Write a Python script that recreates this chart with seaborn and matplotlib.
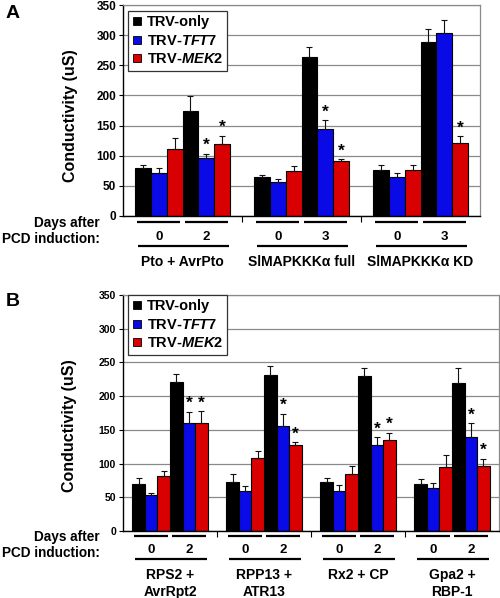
import numpy as np
import pandas as pd
import matplotlib
matplotlib.use("Agg")
import matplotlib.pyplot as plt
import matplotlib.transforms as mtransforms
from matplotlib.lines import Line2D
import seaborn as sns

# treatments / legend
treatments = ["TRV-only", "TRV-TFT7", "TRV-MEK2"]
legend_labels = ["TRV-only", r"TRV-$\mathit{TFT7}$", r"TRV-$\mathit{MEK2}$"]
colors = ["#000000", "#0a0ae6", "#d80000"]

# panel A : groups x days x treatments
groups_a = ["Pto + AvrPto", "SlMAPKKKα full", "SlMAPKKKα KD"]
days_a = [["0", "2"], ["0", "3"], ["0", "3"]]
mean_a = [[[79, 71, 111], [175, 96, 119]],
          [[64, 57, 75], [263, 145, 92]],
          [[77, 64, 76], [288, 303, 121]]]
err_a = [[[6, 9, 18], [24, 7, 14]],
         [[4, 4, 8], [18, 14, 2]],
         [[8, 7, 9], [23, 22, 11]]]
star_a = [[[0, 0, 0], [0, 1, 1]],
          [[0, 0, 0], [0, 1, 1]],
          [[0, 0, 0], [0, 0, 1]]]

# panel B
groups_b = ["RPS2 +\nAvrRpt2", "RPP13 +\nATR13", "Rx2 + CP", "Gpa2 +\nRBP-1"]
days_b = [["0", "2"], ["0", "2"], ["0", "2"], ["0", "2"]]
mean_b = [[[70, 54, 82], [221, 160, 160]],
          [[73, 60, 109], [231, 155, 127]],
          [[73, 60, 84], [230, 128, 135]],
          [[70, 64, 95], [220, 139, 97]]]
err_b = [[[9, 3, 7], [12, 17, 18]],
         [[12, 6, 10], [13, 19, 5]],
         [[6, 8, 13], [12, 11, 11]],
         [[7, 7, 18], [22, 21, 10]]]
star_b = [[[0, 0, 0], [0, 1, 1]],
          [[0, 0, 0], [0, 1, 1]],
          [[0, 0, 0], [0, 1, 1]],
          [[0, 0, 0], [0, 1, 1]]]

yticks = [0, 50, 100, 150, 200, 250, 300, 350]

plt.rcParams['font.family'] = ['Liberation Sans', 'DejaVu Sans']
plt.rcParams['font.weight'] = 'bold'
plt.rcParams['mathtext.fontset'] = 'custom'
plt.rcParams['mathtext.rm'] = 'Liberation Sans:bold'
plt.rcParams['mathtext.it'] = 'Liberation Sans:italic:bold'
plt.rcParams['mathtext.bf'] = 'Liberation Sans:bold'

MARGIN = 0.25
STEP = 2 + 2 * MARGIN
TXT = 10

fig = plt.figure(figsize=(5.0, 5.98), dpi=100)


def px_below(ax, px, xtrans):
    return (mtransforms.blended_transform_factory(xtrans, ax.transAxes)
            + mtransforms.ScaledTranslation(0, -px / fig.dpi, fig.dpi_scale_trans))


def panel(ax, groups, days, means, errs, stars, tick_fs, off, ylab_y, leg_anchor):
    rows = []
    for gi, g in enumerate(groups):
        for di in range(2):
            for ti, t in enumerate(treatments):
                rows.append(dict(group=g, day=days[gi][di], treatment=t,
                                 pos=gi * STEP + di, value=means[gi][di][ti],
                                 err=errs[gi][di][ti], star=stars[gi][di][ti]))
    df = pd.DataFrame(rows)

    sns.barplot(data=df, x="pos", y="value", hue="treatment", hue_order=treatments,
                palette=colors, saturation=1, native_scale=True, width=1, dodge=True,
                errorbar=None, edgecolor="black", linewidth=0.8, legend=False,
                ax=ax, zorder=2)

    # error bars and stars from bar geometry
    for t, cont in zip(treatments, ax.containers):
        sub = df[df.treatment == t].sort_values("pos")
        for bar, (_, r) in zip(cont.patches, sub.iterrows()):
            cx = bar.get_x() + bar.get_width() / 2
            top = bar.get_height()
            ax.errorbar(cx, top, yerr=[[0], [r.err]], fmt="none", ecolor="#111111",
                        elinewidth=0.8, capsize=2.3, capthick=0.8, zorder=3)
            if r.star:
                ax.annotate("*", xy=(cx, top + r.err), xytext=(0, 0.5),
                            textcoords="offset points", ha="center", va="bottom",
                            fontsize=12.5, fontweight="bold")

    n = len(groups)
    ax.set_xlim(-0.5 - MARGIN, (n - 1) * STEP + 1.5 + MARGIN)
    ax.set_ylim(0, 350)
    ax.set_yticks(yticks)
    ax.set_yticklabels([str(v) for v in yticks], fontsize=tick_fs, fontweight="bold")
    seps = [gi * STEP + 1.5 + MARGIN for gi in range(n - 1)]
    ax.set_xticks(seps)
    ax.set_xticklabels([])
    ax.tick_params(axis="x", length=4, width=0.8, direction="out")
    ax.tick_params(axis="y", length=3, width=0.8, direction="out", pad=2)
    ax.set_xlabel("")
    ax.yaxis.grid(True, color="#8a8a8a", linewidth=0.9)
    ax.set_axisbelow(True)
    for s in ["top", "right"]:
        ax.spines[s].set_color("#8a8a8a")
        ax.spines[s].set_linewidth(0.9)
    for s in ["left", "bottom"]:
        ax.spines[s].set_color("black")
        ax.spines[s].set_linewidth(1.0)

    ax.set_ylabel("Conductivity (uS)", fontsize=11.5, fontweight="bold")
    ax.yaxis.label.set_va("center")
    ax.yaxis.set_label_coords(ylab_y[0], ylab_y[1])

    # day / group annotations below the axis
    tr = lambda px: px_below(ax, px, ax.transData)
    for gi, g in enumerate(groups):
        base = gi * STEP
        for di in range(2):
            p = base + di
            ax.plot([p - 0.45, p + 0.45], [0, 0], color="black", lw=1.6,
                    transform=tr(off["day_line"]), clip_on=False,
                    solid_capstyle="butt")
            ax.text(p, 0, days[gi][di], transform=tr(off["day_txt"]), ha="center",
                    va="center", fontsize=9.5, fontweight="bold")
        ax.plot([base - 0.44, base + 1.48], [0, 0], color="black", lw=1.6,
                transform=tr(off["long_line"]), clip_on=False, solid_capstyle="butt")
        ax.text(base + 0.5, 0, g, transform=tr(off["name"]), ha="center",
                va="top", fontsize=TXT, fontweight="bold", linespacing=1.3)

    ta = lambda px: px_below(ax, px, ax.transAxes)
    ax.text(off["lab_x"], 0, "Days after", transform=ta(off["days_after"]),
            ha="right", va="center", fontsize=9.8, fontweight="bold")
    ax.text(off["lab_x"], 0, "PCD induction:", transform=ta(off["pcd"]),
            ha="right", va="center", fontsize=9.8, fontweight="bold")

    handles = [Line2D([0], [0], marker="s", linestyle="none", markersize=6,
                      markerfacecolor=c, markeredgecolor="black", markeredgewidth=0.6)
               for c in colors]
    leg = ax.legend(handles, legend_labels, loc="upper left", bbox_to_anchor=leg_anchor,
                    frameon=True, fancybox=False, edgecolor="#333333", framealpha=1,
                    prop={"size": 10.5, "weight": "bold"}, handlelength=0.6,
                    handletextpad=0.4, labelspacing=0.3, borderpad=0.3,
                    borderaxespad=0)
    leg.get_frame().set_linewidth(0.9)
    leg.set_zorder(5)


# panel A
ax_a = fig.add_axes([123 / 500, 1 - 216 / 598, 357 / 500, 211 / 598])
panel(ax_a, groups_a, days_a, mean_a, err_a, star_a, 8.5,
      dict(day_line=6, day_txt=21, long_line=30, name=39, days_after=7, pcd=23,
           lab_x=(100 - 123) / 357),
      (-0.148, 0.474), (5 / 357, 1 - 6 / 211))

# panel B
ax_b = fig.add_axes([123 / 500, 1 - 531 / 598, 376 / 500, 236 / 598])
panel(ax_b, groups_b, days_b, mean_b, err_b, star_b, 7.5,
      dict(day_line=5, day_txt=19, long_line=28, name=37, days_after=6, pcd=22,
           lab_x=(100 - 123) / 376),
      (-0.141, 0.445), (5 / 376, 1.0))

fig.text(6 / 500, 1 - 14 / 598, "A", fontsize=14, fontweight="bold", va="center")
fig.text(6 / 500, 1 - 302 / 598, "B", fontsize=14, fontweight="bold", va="center")

fig.savefig("out.png", dpi=100)
